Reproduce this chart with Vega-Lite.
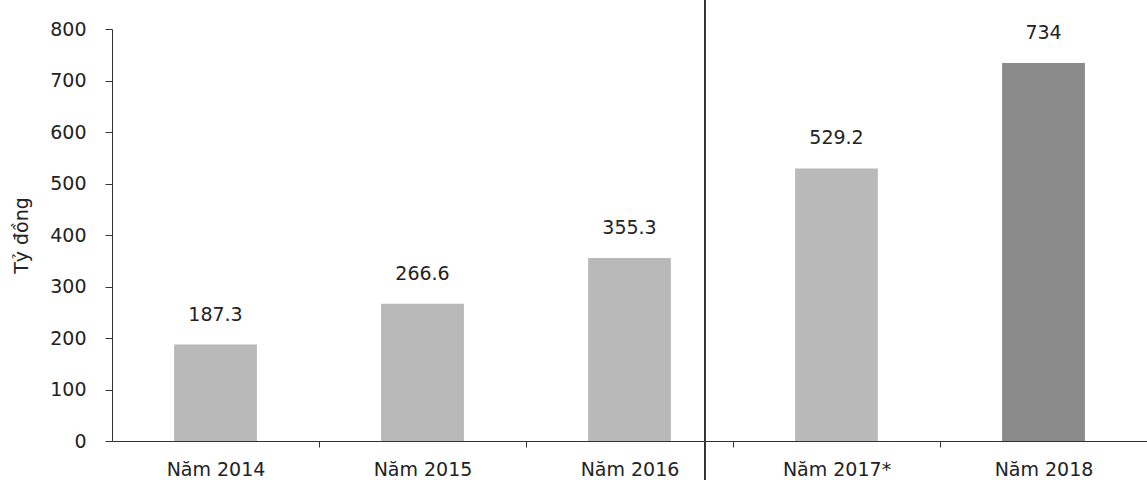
{
  "$schema": "https://vega.github.io/schema/vega-lite/v6.json",
  "width": 1035,
  "height": 412,
  "autosize": {"type": "none"},
  "padding": {"left": 112, "top": 29, "right": 0, "bottom": 39},
  "config": {
    "view": {"stroke": null},
    "font": "DejaVu Sans",
    "axis": {"labelFont": "DejaVu Sans", "titleFont": "DejaVu Sans"}
  },
  "data": {
    "values": [
      {"year": "Năm 2014", "value": 187.3},
      {"year": "Năm 2015", "value": 266.6},
      {"year": "Năm 2016", "value": 355.3},
      {"year": "Năm 2017*", "value": 529.2},
      {"year": "Năm 2018", "value": 734}
    ]
  },
  "encoding": {
    "x": {
      "field": "year",
      "type": "nominal",
      "sort": null,
      "scale": {"paddingInner": 0.6, "paddingOuter": 0.3},
      "axis": {
        "title": null,
        "labelAngle": 0,
        "labelFontSize": 19,
        "labelColor": "#222",
        "labelPadding": 13,
        "tickSize": 6,
        "tickOffset": 103.5,
        "labelOffset": -103.5,
        "tickColor": "#333",
        "domainColor": "#333"
      }
    }
  },
  "layer": [
    {
      "mark": {"type": "bar"},
      "encoding": {
        "y": {
          "field": "value",
          "type": "quantitative",
          "scale": {"domain": [0, 800], "nice": false},
          "axis": {
            "title": "Tỷ đồng",
            "titleFontSize": 19,
            "titleFontWeight": "normal",
            "titleColor": "#222",
            "titlePadding": 18,
            "values": [0, 100, 200, 300, 400, 500, 600, 700, 800],
            "labelFontSize": 19,
            "labelColor": "#222",
            "labelPadding": 19,
            "tickSize": 7,
            "tickColor": "#333",
            "domainColor": "#333",
            "grid": false
          }
        },
        "color": {
          "condition": {"test": "datum.year === 'Năm 2018'", "value": "#8a8a8a"},
          "value": "#b9b9b9"
        }
      }
    },
    {
      "mark": {"type": "text", "fontSize": 19, "color": "#222", "baseline": "middle", "dy": -30},
      "encoding": {
        "y": {"field": "value", "type": "quantitative"},
        "text": {"field": "value", "type": "quantitative"}
      }
    },
    {
      "mark": {"type": "rule", "color": "#333", "strokeWidth": 1.2, "clip": false},
      "encoding": {
        "x": {"datum": "Năm 2016", "bandPosition": 1.41},
        "y": {"datum": 860},
        "y2": {"datum": -80}
      }
    }
  ]
}
